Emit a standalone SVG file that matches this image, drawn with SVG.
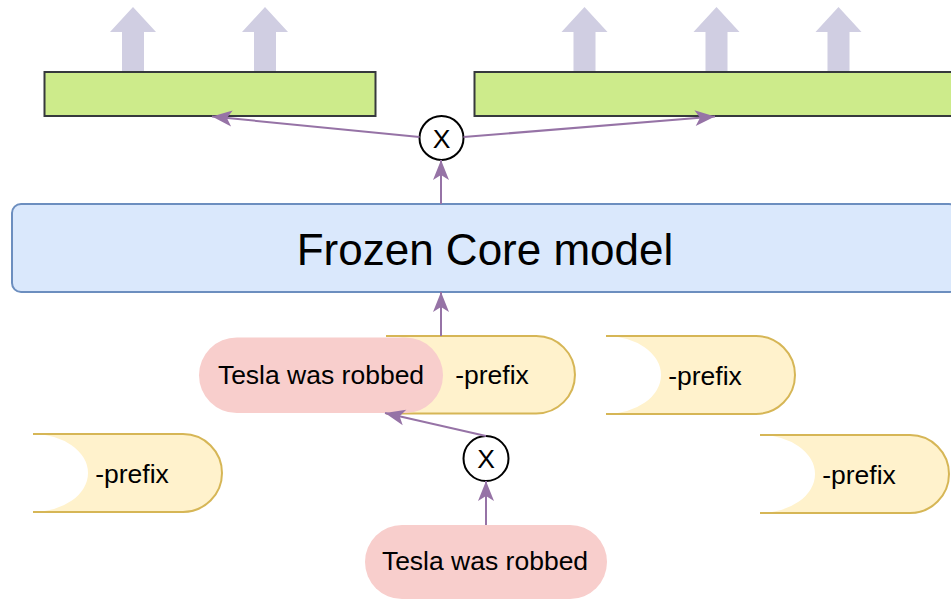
<svg xmlns="http://www.w3.org/2000/svg" width="951" height="600" viewBox="0 0 951 600">
<style>
text{font-family:"Liberation Sans",Arial,sans-serif;fill:#000;text-anchor:middle}
.sm{font-size:26.5px}
.big{font-size:44px}
.green{fill:#cdeb8b;stroke:#36393d;stroke-width:2}
.blk{fill:#d0cee2;stroke:none}
.yfill{fill:#fff2cc;stroke:none}
.yline{fill:none;stroke:#d6b656;stroke-width:2}
.pink{fill:#f8cecc;stroke:none}
.circ{fill:#fff;stroke:#000;stroke-width:2}
.conn{fill:none;stroke:#9673a6;stroke-width:2;marker-end:url(#ah)}
</style>
<defs>
<marker id="ah" markerUnits="userSpaceOnUse" markerWidth="22" markerHeight="18" viewBox="0 0 22 18" refX="21" refY="9" orient="auto">
<path d="M21,9 L1,1 L6,9 L1,17 Z" fill="#9673a6"/>
</marker>
</defs>

<g id="outputs-left">
<polygon class="blk" points="122,72 122,32 110,32 133,7 156,32 144,32 144,72"/>
<polygon class="blk" points="254,72 254,32 242,32 265,7 288,32 276,32 276,72"/>
<rect class="green" x="44.5" y="72" width="331" height="44"/>
</g>
<g id="outputs-right">
<polygon class="blk" points="573.5,72 573.5,32 561.5,32 584.5,7 607.5,32 595.5,32 595.5,72"/>
<polygon class="blk" points="705.5,72 705.5,32 693.5,32 716.5,7 739.5,32 727.5,32 727.5,72"/>
<polygon class="blk" points="827.5,72 827.5,32 815.5,32 838.5,7 861.5,32 849.5,32 849.5,72"/>
<rect class="green" x="474.5" y="72" width="485" height="44"/>
</g>

<g id="mult-top">
<circle class="circ" cx="441.5" cy="138" r="22"/>
<text class="sm" x="441.5" y="147.5">X</text>
</g>

<g id="frozen-core">
<rect x="12" y="204" width="946" height="88" rx="9" fill="#dae8fc" stroke="#6c8ebf" stroke-width="2"/>
<text class="big" x="485" y="264.5">Frozen Core model</text>
</g>

<g id="prefix-main">
<path class="yfill" d="M386,336 L536.25,336 A38.75,38.75 0 0 1 536.25,413.5 L386,413.5 A55,38.75 0 0 0 441,374.75 A55,38.75 0 0 0 386,336 Z"/>
<path class="yline" d="M386,336 L536.25,336 A38.75,38.75 0 0 1 536.25,413.5 L386,413.5"/>
<text class="sm" x="492" y="383.5">-prefix</text>
</g>

<g id="input-top">
<rect class="pink" x="199" y="337.5" width="244" height="75.5" rx="37.75"/>
<text class="sm" x="321" y="383.5">Tesla was robbed</text>
</g>

<g id="prefix-left">
<path class="yfill" d="M33,434 L183,434 A39,39 0 0 1 183,512 L33,512 A55,39 0 0 0 88,473 A55,39 0 0 0 33,434 Z"/>
<path class="yline" d="M33,434 L183,434 A39,39 0 0 1 183,512 L33,512"/>
<text class="sm" x="132" y="482.5">-prefix</text>
</g>

<g id="prefix-right-mid">
<path class="yfill" d="M606,336 L756,336 A39,39 0 0 1 756,414 L606,414 A55,39 0 0 0 661,375 A55,39 0 0 0 606,336 Z"/>
<path class="yline" d="M606,336 L756,336 A39,39 0 0 1 756,414 L606,414"/>
<text class="sm" x="705" y="384.5">-prefix</text>
</g>

<g id="prefix-right-bottom">
<path class="yfill" d="M760,435 L910,435 A39,39 0 0 1 910,513 L760,513 A55,39 0 0 0 815,474 A55,39 0 0 0 760,435 Z"/>
<path class="yline" d="M760,435 L910,435 A39,39 0 0 1 910,513 L760,513"/>
<text class="sm" x="859" y="483.5">-prefix</text>
</g>

<g id="mult-bottom">
<circle class="circ" cx="486" cy="458.5" r="22.5"/>
<text class="sm" x="486" y="468">X</text>
</g>

<g id="input-bottom">
<rect class="pink" x="365" y="525" width="242" height="74" rx="37"/>
<text class="sm" x="485" y="570">Tesla was robbed</text>
</g>

<g id="connectors">
<path class="conn" d="M486,525 L486,481"/>
<path class="conn" d="M486,436 L385,413"/>
<path class="conn" d="M441,336 L441,292"/>
<path class="conn" d="M441,204 L441,160"/>
<path class="conn" d="M419.5,137 L212,116.5"/>
<path class="conn" d="M463.5,137 L715,116.5"/>
</g>
</svg>
